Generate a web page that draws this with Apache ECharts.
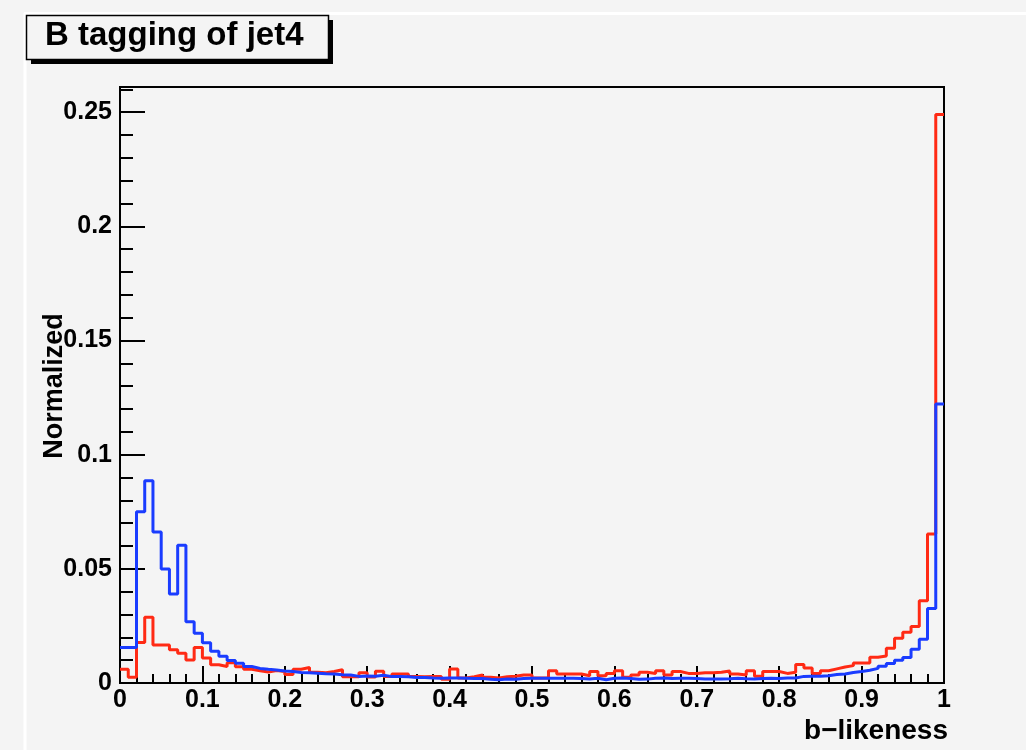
<!DOCTYPE html>
<html>
<head>
<meta charset="utf-8">
<title>B tagging of jet4</title>
<script src="https://cdn.jsdelivr.net/npm/echarts@6/dist/echarts.min.js"></script>
<style>
  html, body { margin: 0; padding: 0; background: #f4f4f4; }
  #chart { width: 1026px; height: 750px; }
</style>
</head>
<body>
<div id="chart"></div>
<script>
// Histogram binning: 100 equal bins on [0, 1]
const NBINS = 100;
const X_MIN = 0;
const X_MAX = 1;

// Normalized bin contents, first bin to last
const redValues = [
  0.0060, 0.0025, 0.0177, 0.0288, 0.0166, 0.0166, 0.0146, 0.0130, 0.0101, 0.0156,
  0.0109, 0.0080, 0.0072, 0.0089, 0.0071, 0.0060, 0.0054, 0.0048, 0.0055, 0.0050,
  0.0037, 0.0060, 0.0068, 0.0047, 0.0045, 0.0050, 0.0058, 0.0027, 0.0027, 0.0045,
  0.0026, 0.0052, 0.0029, 0.0039, 0.0039, 0.0028, 0.0027, 0.0028, 0.0028, 0.0016,
  0.0061, 0.0022, 0.0028, 0.0035, 0.0025, 0.0022, 0.0027, 0.0030, 0.0035, 0.0035,
  0.0022, 0.0022, 0.0054, 0.0039, 0.0039, 0.0039, 0.0032, 0.0050, 0.0032, 0.0042,
  0.0054, 0.0025, 0.0035, 0.0047, 0.0042, 0.0054, 0.0035, 0.0050, 0.0042, 0.0042,
  0.0045, 0.0045, 0.0047, 0.0053, 0.0039, 0.0035, 0.0054, 0.0030, 0.0050, 0.0050,
  0.0042, 0.0047, 0.0081, 0.0066, 0.0042, 0.0054, 0.0062, 0.0070, 0.0076, 0.0088,
  0.0088, 0.0113, 0.0118, 0.0152, 0.0196, 0.0222, 0.0247, 0.0360, 0.0652, 0.2490
];

const blueValues = [
  0.0155, 0.0155, 0.0750, 0.0886, 0.0661, 0.0499, 0.0390, 0.0603, 0.0268, 0.0218,
  0.0176, 0.0139, 0.0117, 0.0099, 0.0086, 0.0072, 0.0064, 0.0060, 0.0057, 0.0053,
  0.0050, 0.0046, 0.0045, 0.0043, 0.0040, 0.0039, 0.0036, 0.0035, 0.0029, 0.0031,
  0.0030, 0.0034, 0.0028, 0.0028, 0.0027, 0.0024, 0.0024, 0.0022, 0.0021, 0.0022,
  0.0022, 0.0021, 0.0020, 0.0020, 0.0016, 0.0014, 0.0017, 0.0016, 0.0020, 0.0021,
  0.0021, 0.0021, 0.0021, 0.0021, 0.0021, 0.0020, 0.0018, 0.0021, 0.0014, 0.0021,
  0.0022, 0.0020, 0.0016, 0.0017, 0.0021, 0.0022, 0.0020, 0.0021, 0.0021, 0.0020,
  0.0018, 0.0017, 0.0018, 0.0019, 0.0021, 0.0019, 0.0018, 0.0020, 0.0021, 0.0020,
  0.0022, 0.0022, 0.0029, 0.0030, 0.0030, 0.0032, 0.0037, 0.0039, 0.0046, 0.0050,
  0.0056, 0.0064, 0.0073, 0.0085, 0.0100, 0.0112, 0.0148, 0.0192, 0.0326, 0.1222
];

// Axis ranges and tick spacing
const yMax = 0.261;
const xMajor = 0.1;
const yMajor = 0.05;
const yMinor = 0.01;

const titleText = 'B tagging of jet4';
const xTitle = 'b\u2212likeness';
const yTitle = 'Normalized';

// Turn bin contents into step-line points: one point per lower bin edge, plus the upper edge of the last bin
function histPoints(values) {
  const w = (X_MAX - X_MIN) / NBINS;
  const pts = values.map((v, i) => [X_MIN + i * w, v]);
  pts.push([X_MAX, values[values.length - 1]]);
  return pts;
}

const FONT = '"Liberation Sans", Arial, Helvetica, sans-serif';
const chart = echarts.init(document.getElementById('chart'), null, { renderer: 'canvas' });

const labelStyle = { color: '#000', fontFamily: FONT, fontWeight: 'bold', fontSize: 25 };

chart.setOption({
  backgroundColor: '#f4f4f4',
  animation: false,
  grid: {
    left: 120, right: 82, top: 87, bottom: 67,
    show: true, borderColor: '#000', borderWidth: 2, backgroundColor: 'transparent'
  },
  xAxis: {
    type: 'value', min: X_MIN, max: X_MAX, interval: xMajor,
    axisLine: { show: true, onZero: false, lineStyle: { color: '#000', width: 2 } },
    axisTick: { show: true, inside: true, length: 17, lineStyle: { color: '#000', width: 2 } },
    minorTick: { show: true, splitNumber: 5, length: 9, lineStyle: { color: '#000', width: 2 } },
    splitLine: { show: false },
    axisLabel: Object.assign({ margin: 5 }, labelStyle)
  },
  yAxis: [
    {
      type: 'value', min: 0, max: yMax, interval: yMajor, position: 'left',
      axisLine: { show: true, onZero: false, lineStyle: { color: '#000', width: 2 } },
      axisTick: { show: true, inside: true, length: 25, lineStyle: { color: '#000', width: 2 } },
      splitLine: { show: false },
      axisLabel: Object.assign({ margin: 8, showMaxLabel: false }, labelStyle)
    },
    {
      // minor ticks every 0.01
      type: 'value', min: 0, max: yMax, interval: yMinor, position: 'left', offset: 0,
      axisLine: { show: false },
      axisTick: { show: true, inside: true, length: 13, lineStyle: { color: '#000', width: 2 } },
      splitLine: { show: false },
      axisLabel: { show: false }
    }
  ],
  series: [
    {
      name: 'red', type: 'line', step: 'end', yAxisIndex: 0,
      data: histPoints(redValues), symbol: 'none', clip: true,
      lineStyle: { color: '#ff2a14', width: 3 }, z: 3
    },
    {
      name: 'blue', type: 'line', step: 'end', yAxisIndex: 0,
      data: histPoints(blueValues), symbol: 'none', clip: true,
      lineStyle: { color: '#1a3cff', width: 3 }, z: 4
    }
  ],
  graphic: [
    // pad edge lines
    { type: 'line', shape: { x1: 24, y1: 13.5, x2: 1026, y2: 13.5 }, style: { stroke: '#ffffff', lineWidth: 3 }, z: 0 },
    { type: 'line', shape: { x1: 25, y1: 13, x2: 25, y2: 750 }, style: { stroke: '#ffffff', lineWidth: 3 }, z: 0 },
    // title box with drop shadow
    { type: 'rect', shape: { x: 31, y: 20, width: 302, height: 44 }, style: { fill: '#000' }, z: 10 },
    { type: 'rect', shape: { x: 26.5, y: 15.5, width: 302, height: 44 }, style: { fill: '#f4f4f4', stroke: '#000', lineWidth: 1.5 }, z: 11 },
    {
      type: 'text', x: 45, y: 36, z: 12,
      style: { text: titleText, fill: '#000', font: 'bold 33px ' + FONT, textAlign: 'left', textVerticalAlign: 'middle' }
    },
    // axis titles
    {
      type: 'text', x: 948, y: 731, z: 12,
      style: { text: xTitle, fill: '#000', font: 'bold 28px ' + FONT, textAlign: 'right', textVerticalAlign: 'middle' }
    },
    {
      type: 'text', x: 55, y: 386, rotation: Math.PI / 2, z: 12,
      style: { text: yTitle, fill: '#000', font: 'bold 27px ' + FONT, textAlign: 'center', textVerticalAlign: 'middle' }
    }
  ]
});
</script>
</body>
</html>
